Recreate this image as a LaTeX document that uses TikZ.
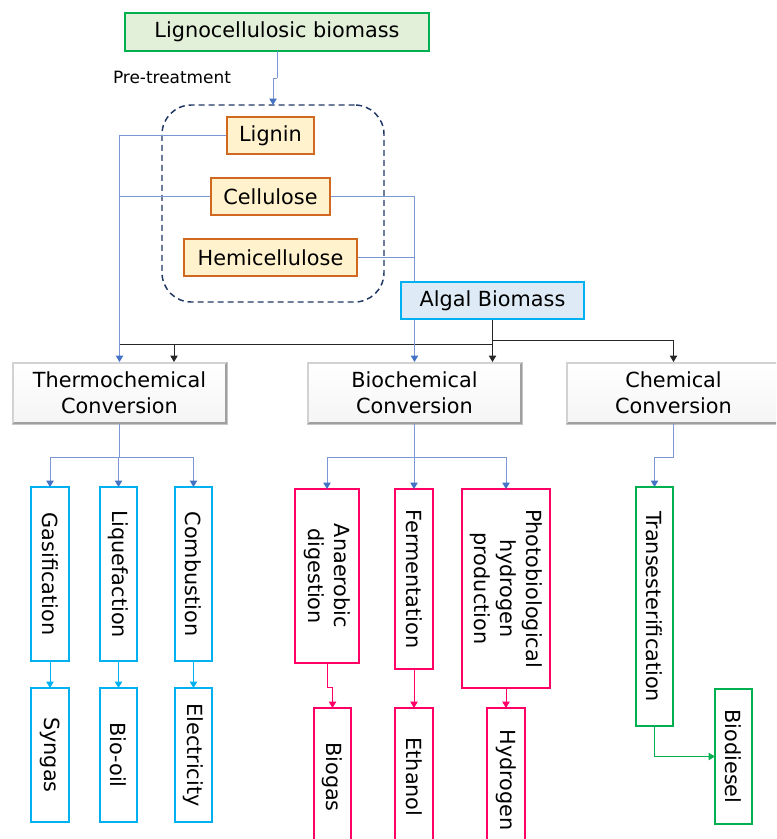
\documentclass[tikz,border=0pt]{standalone}
\usepackage{fontspec}
\setmainfont{DejaVu Sans}
\usetikzlibrary{arrows.meta,calc}
\definecolor{cBlue}{HTML}{4472C4}
\definecolor{cLine}{HTML}{7A98D6}
\definecolor{cCyan}{HTML}{00B0F0}
\definecolor{cPink}{HTML}{FF0066}
\definecolor{cGreen}{HTML}{00B050}
\definecolor{cGreenFill}{HTML}{E2F0D9}
\definecolor{cOrange}{HTML}{D0691F}
\definecolor{cOrangeFill}{HTML}{FFF2CC}
\definecolor{cAlgFill}{HTML}{DEEBF7}
\definecolor{cNavy}{HTML}{1F3864}
\definecolor{cDark}{HTML}{262626}
\newcommand\bx[7]{\node[#6, minimum width={(#4-#2)*0.75pt}, minimum height={(#5-#3)*0.75pt}] (#1) at ({(#2+#4)/2},{(#3+#5)/2}) {#7};}
\newcommand\bevel[1]{%
  \draw[gray!75, line width=2pt] ([shift={(-1,1)}]#1.north east) -- ([shift={(-1,-1)}]#1.south east) -- ([shift={(1,-1)}]#1.south west);
  \draw[gray!35, line width=0.9pt] ([shift={(1,-1)}]#1.south west) -- ([shift={(1,1)}]#1.north west) -- ([shift={(-1,1)}]#1.north east);}
\tikzset{
  base/.style={inner sep=0pt, outer sep=0pt},
  lignobox/.style={base, draw=cGreen, fill=cGreenFill, line width=1.1pt},
  compbox/.style={base, draw=cOrange, fill=cOrangeFill, line width=1.1pt},
  algbox/.style={base, draw=cCyan, fill=cAlgFill, line width=1.1pt},
  groupbox/.style={base, draw=cNavy, dash pattern=on 4.5pt off 3pt, line width=1.1pt, rounded corners=22pt},
  convbox/.style={base, top color=white, bottom color=gray!8, draw=gray!45, line width=0.6pt, align=center},
  thbox/.style={base, draw=cCyan, fill=white, line width=1.1pt},
  bibox/.style={base, draw=cPink, fill=white, line width=1.1pt},
  chbox/.style={base, draw=cGreen, fill=white, line width=1.1pt},
  vtext/.style={rotate=-90, align=center, inner sep=0pt},
  bl/.style={cLine, line width=0.65pt},
  bla/.style={bl, -{Triangle[length=4.8pt,width=5.5pt,color=cBlue]}},
  gk/.style={cDark, line width=0.65pt},
  gka/.style={gk, -{Triangle[length=4.8pt,width=5.5pt]}},
  cy/.style={cCyan, line width=0.65pt, -{Triangle[length=4.8pt,width=5.5pt]}},
  pk/.style={cPink, line width=0.65pt, -{Triangle[length=4.8pt,width=5.5pt]}},
  gr/.style={cGreen, line width=0.65pt, -{Triangle[length=4.8pt,width=5.5pt]}},
}
\begin{document}
\begin{tikzpicture}[x=0.75pt,y=-0.75pt, font=\fontsize{15.6}{19.5}\selectfont]
\clip (0,0) rectangle (776,839);
\fill[white] (0,0) rectangle (776,839);

\bx{ligno}{125}{13}{429}{51}{lignobox}{Lignocellulosic biomass}
\node[base, font=\fontsize{12.7}{15}\selectfont] (pre) at (172,77) {Pre-treatment};
\bx{grp}{162}{105}{384}{302}{groupbox}{}

\bx{thermo}{12}{362}{227}{424}{convbox}{Thermochemical\\Conversion}
\bx{bio}{307}{362}{522}{424}{convbox}{Biochemical\\Conversion}
\bx{chem}{566}{362}{781}{424}{convbox}{Chemical\\Conversion}
\bevel{thermo}\bevel{bio}\bevel{chem}

\coordinate (jr) at (492.5,340);
\coordinate (jl) at (492.5,344);
\coordinate (tl) at (174,344);
\draw[bl] (ligno.south) -- ++(0,27) coordinate (pj);
\draw[bla] (pj) -| (grp.north);

% placeholders for the component boxes (lines are drawn behind them)
\bx{lignin}{227}{117}{314}{154}{base}{}
\bx{cell}{211}{178}{330}{215}{base}{}
\bx{hemi}{184}{239}{357}{276}{base}{}
\bx{algal}{401}{282}{584}{319}{base}{}

\draw[gk] (jl) -- (jl -| thermo.north);
\draw[gka] (tl) -- (tl |- thermo.north);
\draw[gk] (algal.south) -- (jr);
\draw[gka] (jr) -- (jr |- bio.north);
\draw[gka] (jr) -| (chem.north);
\draw[bla] (lignin.west) -| (thermo.north);
\draw[bl] (cell.west) -- (cell.west -| thermo.north);
\draw[bla] (cell.east) -| (bio.north);
\draw[bl] (hemi.east) -- (hemi.east -| bio.north);

\bx{ligninbox}{227}{117}{314}{154}{compbox}{Lignin}
\bx{cellbox}{211}{178}{330}{215}{compbox}{Cellulose}
\bx{hemibox}{184}{239}{357}{276}{compbox}{Hemicellulose}
\bx{algalbox}{401}{282}{584}{319}{algbox}{Algal Biomass}

% thermochemical branch
\bx{gas}{31}{487}{69}{661}{thbox}{}
\bx{liq}{100}{487}{137}{661}{thbox}{}
\bx{comb}{175}{487}{212}{661}{thbox}{}
\node[vtext] at (gas) {Gasification};
\node[vtext] at (liq) {Liquefaction};
\node[vtext] at (comb) {Combustion};
\bx{syn}{31}{688}{69}{822}{thbox}{}
\bx{oil}{100}{688}{137}{822}{thbox}{}
\bx{elec}{175}{688}{212}{822}{thbox}{}
\node[vtext] at (syn) {Syngas};
\node[vtext] at (oil) {Bio-oil};
\node[vtext] at (elec) {Electricity};
\draw[bl] (thermo.south) -- ++(0,33) coordinate (tb);
\draw[bla] (tb) -| (gas.north);
\draw[bla] (tb) -| (comb.north);
\draw[bla] (tb) -| (liq.north);
\draw[cy] (gas.south) -- (syn.north);
\draw[cy] (liq.south) -- (oil.north);
\draw[cy] (comb.south) -- (elec.north);

% biochemical branch
\bx{anae}{295}{489}{359}{663}{bibox}{}
\bx{ferm}{395}{489}{433}{669}{bibox}{}
\bx{photo}{462}{489}{550}{688}{bibox}{}
\node[vtext] at (anae) {Anaerobic\\digestion};
\node[vtext] at (ferm) {Fermentation};
\node[vtext] at (photo) {Photobiological\\hydrogen\\production};
\bx{biogas}{314}{708}{351}{846}{bibox}{}
\bx{eth}{395}{708}{433}{846}{bibox}{}
\bx{hyd}{487}{708}{525}{852}{bibox}{}
\node[vtext] at (biogas) {Biogas};
\node[vtext] at (eth) {Ethanol};
\node[vtext] at (hyd) {Hydrogen};
\draw[bl] (bio.south) -- ++(0,33) coordinate (bb);
\draw[bla] (bb) -| (anae.north);
\draw[bla] (bb) -| (ferm.north);
\draw[bla] (bb) -| (photo.north);
\draw[pk] (anae.south) -- ++(0,24) -| (biogas.north);
\draw[pk] (ferm.south) -- (eth.north);
\draw[pk] (photo.south) -- (hyd.north);

% chemical branch
\bx{trans}{636}{487}{673}{726}{chbox}{}
\node[vtext] at (trans) {Transesterification};
\bx{biod}{715}{689}{752}{824}{chbox}{}
\node[vtext] at (biod) {Biodiesel};
\draw[bla] (chem.south) -- ++(0,33) -| (trans.north);
\draw[gr] (trans.south) |- (biod.west);
\end{tikzpicture}
\end{document}
